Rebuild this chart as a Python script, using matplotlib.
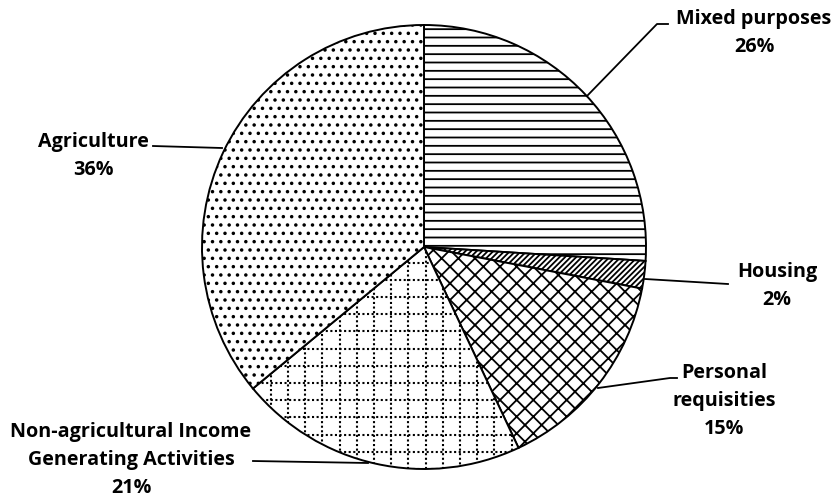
import matplotlib.pyplot as plt
import numpy as np

# Loan purpose shares (%)
categories = ["Mixed purposes", "Housing", "Personal\nrequisities",
              "Non-agricultural Income\nGenerating Activities", "Agriculture"]
shares = [26, 2, 15, 21, 36]
hatches = ["--", "//////", "xx", "", ".."]

W, H = 835, 500
plt.rcParams['font.family'] = ['Open Sans', 'DejaVu Sans']
plt.rcParams['hatch.linewidth'] = 1.3

fig = plt.figure(figsize=(W / 100, H / 100), dpi=100)
ax = fig.add_axes([0, 0, 1, 1])

cx, cy, r = 424, H - 247, 222
wedges, _ = ax.pie(shares, startangle=90, counterclock=False,
                   center=(cx, cy), radius=r, colors=["white"] * len(shares),
                   wedgeprops=dict(edgecolor="black", linewidth=1.4))
for w, h in zip(wedges, hatches):
    w.set_hatch(h)

# dotted grid for the non-agricultural slice
step = 17.2
for g in np.arange(cx - r, cx + r, step):
    ln, = ax.plot([g, g], [cy - r, cy + r], color="black", lw=1.5,
                  ls=(0, (1, 1.2)))
    ln.set_clip_path(wedges[3])
for g in np.arange(cy - r, cy + r, step):
    ln, = ax.plot([cx - r, cx + r], [g, g], color="black", lw=1.5,
                  ls=(0, (1, 1.2)))
    ln.set_clip_path(wedges[3])

ax.set_xlim(0, W)
ax.set_ylim(0, H)
ax.set_aspect("auto")
ax.axis("off")

# leader lines
leaders = [
    [(587, 96), (657, 24), (668, 24)],
    [(645, 279), (728, 284)],
    [(598, 388), (670, 378), (677, 378)],
    [(368, 463), (253, 461)],
    [(222, 148), (153, 146)],
]
for pts in leaders:
    xs = [p[0] for p in pts]
    ys = [H - p[1] for p in pts]
    ax.plot(xs, ys, color="black", lw=1.3)

labels = [
    (754, 33, categories[0] + "\n26%"),
    (777, 286, categories[1] + "\n2%"),
    (724, 401, categories[2] + "\n15%"),
    (131, 460, categories[3] + "\n21%"),
    (93, 156, categories[4] + "\n36%"),
]
for x, y, s in labels:
    ax.text(x, H - y, s, ha="center", va="center", fontsize=14.2,
            fontweight="bold", linespacing=1.55)

fig.savefig("out.png", dpi=100)
